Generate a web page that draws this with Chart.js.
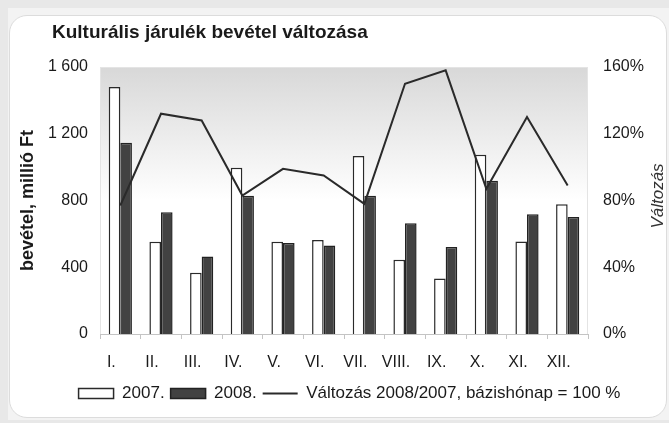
<!DOCTYPE html>
<html lang="hu">
<head>
<meta charset="UTF-8">
<title>Kulturális járulék bevétel változása</title>
<script src="https://cdn.jsdelivr.net/npm/chart.js"></script>
<style>
  * { box-sizing: border-box; margin: 0; padding: 0; }
  body { width: 669px; height: 423px; background: #e8e8e8; position: relative; overflow: hidden; }
  .frame { position: absolute; left: 8px; top: 8px; right: 0; bottom: 3px; background: #f3f3f3; }
  .card { position: absolute; left: 9px; top: 15px; width: 658px; height: 403px; background: #fff;
          border: 1px solid #dcdcdc; border-radius: 18px; }
  canvas { position: absolute; left: 0; top: 0; }
</style>
</head>
<body>
<div class="frame"></div>
<div class="card"></div>
<canvas id="chart" width="669" height="423"></canvas>

<script>
// ─── data ─────────────────────────────────────────────────────────────────────
const months   = ['I.', 'II.', 'III.', 'IV.', 'V.', 'VI.', 'VII.', 'VIII.', 'IX.', 'X.', 'XI.', 'XII.'];
const rev2007  = [1480, 553, 367, 996, 553, 563, 1066, 445, 333, 1074, 555, 778];
const rev2008  = [1146, 730, 465, 828, 545, 531, 828, 663, 521, 918, 718, 701];
const change   = [77, 132, 128, 83, 99, 95, 78, 150, 158, 87, 130, 89];   // %
const revTicks = [0, 400, 800, 1200, 1600];
const pctTicks = [0, 40, 80, 120, 160];

const TITLE       = 'Kulturális járulék bevétel változása';
const LEFT_TITLE  = 'bevétel, millió Ft';
const RIGHT_TITLE = 'Változás';
const FONT        = '"Liberation Sans", Arial, sans-serif';

// grey-to-white fill behind the plot, plus the free-standing texts
const decor = {
  id: 'decor',
  beforeDraw(chart) {
    const { ctx, chartArea: a } = chart;
    const g = ctx.createLinearGradient(0, a.top, 0, a.bottom);
    g.addColorStop(0, '#d8d8d8');
    g.addColorStop(0.5, '#ffffff');
    g.addColorStop(1, '#ffffff');
    ctx.save();
    ctx.fillStyle = g;
    ctx.fillRect(a.left, a.top, a.right - a.left, a.bottom - a.top);
    ctx.strokeStyle = '#e4e4e4';
    ctx.lineWidth = 1;
    ctx.strokeRect(a.left + 0.5, a.top + 0.5, a.right - a.left - 1, a.bottom - a.top);
    ctx.restore();
  },
  afterDraw(chart) {
    const ctx = chart.ctx;
    ctx.save();
    ctx.fillStyle = '#1a1a1a';
    ctx.textBaseline = 'middle';
    ctx.font = 'bold 19px ' + FONT;
    ctx.fillText(TITLE, 52, 33);
    ctx.translate(658, 196);
    ctx.rotate(-Math.PI / 2);
    ctx.textAlign = 'center';
    ctx.font = 'italic 17px ' + FONT;
    ctx.fillStyle = '#333';
    ctx.fillText(RIGHT_TITLE, 0, 0);
    ctx.restore();
  }
};

const tickFont = { family: FONT, size: 16 };

new Chart(document.getElementById('chart'), {
  data: {
    labels: months,
    datasets: [
      {
        type: 'bar', label: '2007.', data: rev2007, yAxisID: 'y',
        backgroundColor: '#ffffff', borderColor: '#2a2a2a', borderWidth: 1.5,
        pointStyle: 'rect', order: 2,
      },
      {
        type: 'bar', label: '2008.', data: rev2008, yAxisID: 'y',
        backgroundColor: '#424242', borderColor: '#222', borderWidth: 1.5,
        pointStyle: 'rect', order: 2,
      },
      {
        type: 'line', label: 'Változás 2008/2007, bázishónap = 100 %', data: change, yAxisID: 'y1',
        borderColor: '#2a2a2a', backgroundColor: '#2a2a2a', borderWidth: 2,
        pointRadius: 0, pointStyle: 'line', tension: 0, order: 1,
      },
    ],
  },
  options: {
    responsive: false,
    animation: false,
    datasets: { bar: { categoryPercentage: 0.57, barPercentage: 1.0 } },
    layout: { padding: { left: 30, right: 0, top: 67, bottom: 11 } },
    plugins: {
      legend: {
        position: 'bottom',
        labels: {
          usePointStyle: true, pointStyleWidth: 35, boxHeight: 10, padding: 6,
          color: '#1a1a1a', font: { family: FONT, size: 17 },
          sort: (a, b) => a.datasetIndex - b.datasetIndex,
        },
      },
      title: { display: false },
      tooltip: { enabled: false },
    },
    scales: {
      x: {
        grid: { drawOnChartArea: false, drawTicks: true, tickLength: 5, color: '#c4c4c4' },
        border: { color: '#c4c4c4' },
        ticks: { color: '#1a1a1a', font: tickFont, padding: 14, labelOffset: -9, maxRotation: 0, autoSkip: false },
        afterFit(s) { s.height = 45; },
      },
      y: {
        position: 'left', min: 0, max: 1600,
        afterBuildTicks(s) { s.ticks = revTicks.map(v => ({ value: v })); },
        grid: { display: false, drawTicks: false }, border: { display: false },
        ticks: {
          color: '#1a1a1a', font: tickFont, padding: 12,
          callback: v => v >= 1000 ? Math.floor(v / 1000) + ' ' + String(v % 1000).padStart(3, '0') : String(v),
        },
        title: {
          display: true, text: LEFT_TITLE, color: '#1a1a1a',
          font: { family: FONT, size: 18, weight: 'bold' }, padding: { top: -13, bottom: 0 },
        },
        afterFit(s) { s.width = 70; },
      },
      y1: {
        position: 'right', min: 0, max: 160,
        afterBuildTicks(s) { s.ticks = pctTicks.map(v => ({ value: v })); },
        grid: { display: false, drawTicks: false }, border: { display: false },
        ticks: { color: '#1a1a1a', font: tickFont, padding: 15, callback: v => v + '%' },
        afterFit(s) { s.width = 81; },
      },
    },
  },
  plugins: [decor],
});
</script>
</body>
</html>
